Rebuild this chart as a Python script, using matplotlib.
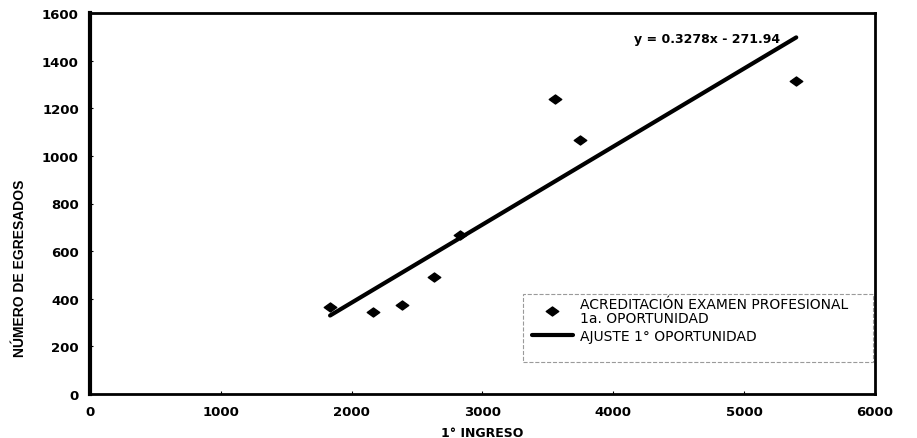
import numpy as np
import matplotlib.pyplot as plt
from matplotlib.path import Path
from matplotlib.patches import Rectangle

# data
ingreso = [1835, 2164, 2385, 2630, 2829, 3555, 3746, 5398]
egresados = [365, 345, 374, 492, 668, 1239, 1067, 1315]
slope = 0.3278
intercept = -271.94

x_ticks = [0, 1000, 2000, 3000, 4000, 5000, 6000]
y_ticks = [0, 200, 400, 600, 800, 1000, 1200, 1400, 1600]

plt.rcParams['font.family'] = ['DejaVu Sans']

# flat diamond, a bit wider than tall
diamond = Path([(-1, 0), (0, 0.72), (1, 0), (0, -0.72), (-1, 0)],
               [Path.MOVETO, Path.LINETO, Path.LINETO, Path.LINETO, Path.CLOSEPOLY])

fig = plt.figure(figsize=(9.17, 4.39), dpi=100)
ax = fig.add_axes([90 / 917, 1 - 395 / 439, 785 / 917, 381 / 439])

ax.plot(ingreso, egresados, linestyle='none', marker=diamond, color='black',
        markersize=9, label='ACREDITACIÓN EXAMEN PROFESIONAL\n1a. OPORTUNIDAD')

fit_x = np.array([min(ingreso), max(ingreso)])
ax.plot(fit_x, slope * fit_x + intercept, color='black', linewidth=3,
        solid_capstyle='round', label='AJUSTE 1° OPORTUNIDAD')

ax.text(5274, 1495, 'y = 0.3278x - 271.94', fontsize=9, fontweight='bold',
        ha='right', va='center')

ax.set_xlim(0, 6000)
ax.set_ylim(0, 1600)
ax.set_xticks(x_ticks)
ax.set_yticks(y_ticks)
ax.tick_params(axis='both', direction='in', length=2, width=0.8, labelsize=9.5, pad=8)
for lbl in ax.get_xticklabels() + ax.get_yticklabels():
    lbl.set_fontweight('bold')
ax.spines['left'].set_linewidth(3)
for side in ['bottom', 'top', 'right']:
    ax.spines[side].set_linewidth(2)

ax.set_xlabel('1° INGRESO', fontsize=9, fontweight='bold', labelpad=6)
ax.set_ylabel('NÚMERO DE EGRESADOS', fontsize=10, fontweight='bold',
              family=['Liberation Sans', 'DejaVu Sans'])
ax.yaxis.set_label_coords(-0.08, 0.333)

# dashed legend box, the text runs past it as in the original
ax.add_patch(Rectangle((0.552, 0.084), 0.445, 0.178, transform=ax.transAxes,
                       fill=False, edgecolor='#9a9a9a', linestyle='--', linewidth=0.8))

leg = ax.legend(loc='upper left', bbox_to_anchor=(0.563, 0.255), fontsize=10,
                frameon=False, borderpad=0, borderaxespad=0,
                handlelength=2.95, handletextpad=0.5, labelspacing=0.3)
for t in leg.get_texts():
    t.set_linespacing(1.0)

fig.savefig('out.png', dpi=100)
